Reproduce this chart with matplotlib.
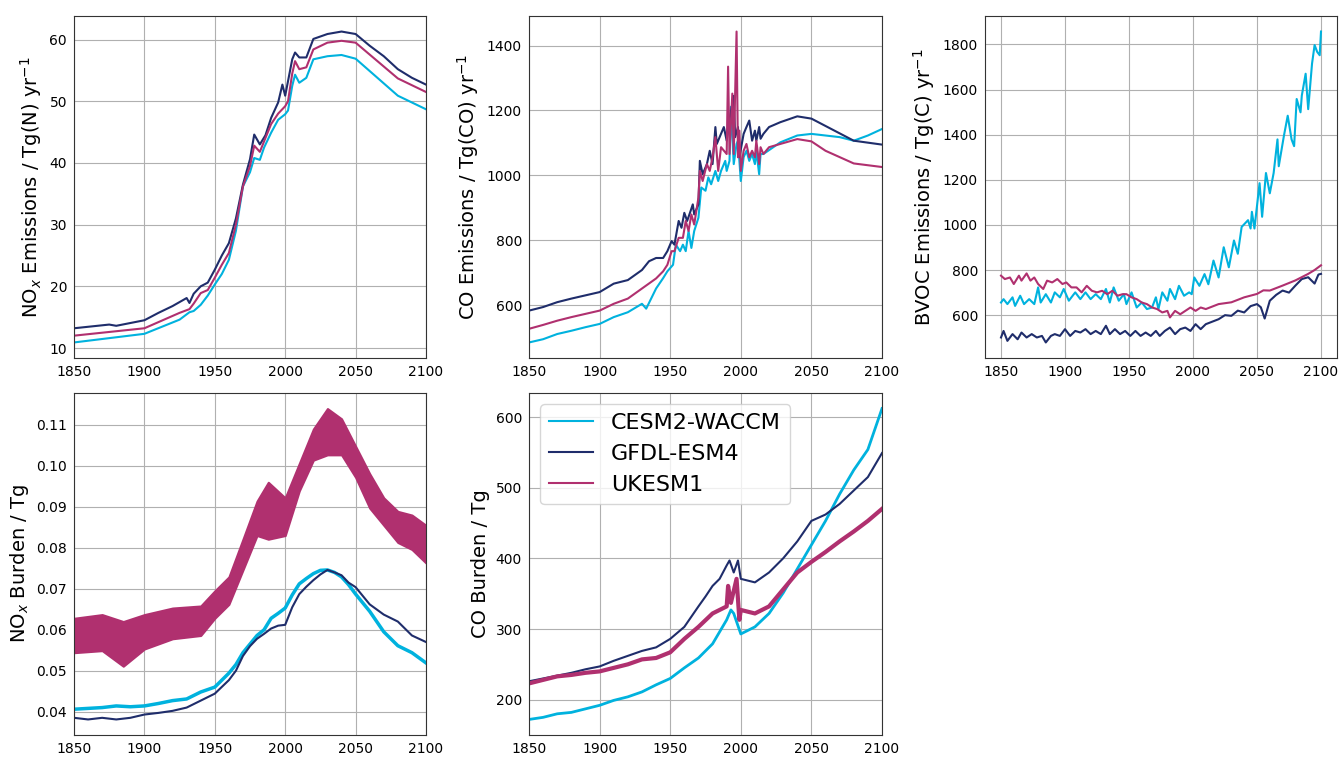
import matplotlib
matplotlib.use("Agg")
import matplotlib.pyplot as plt
from matplotlib.lines import Line2D

models = ["CESM2-WACCM", "GFDL-ESM4", "UKESM1"]
colors = {"CESM2-WACCM": "#00b2de", "GFDL-ESM4": "#1f2d6b", "UKESM1": "#b0306f"}

# ---------------- NOx emissions / Tg(N) yr-1 ----------------
nox_em_cesm_yr = [1850, 1900, 1925, 1932, 1935, 1940, 1945, 1950, 1955, 1960, 1965, 1970, 1975, 1978, 1982, 1985, 1990,
                  1995, 2000, 2002, 2005, 2007, 2010, 2015, 2020, 2030, 2040, 2050, 2080, 2100]
nox_em_cesm = [10.9, 12.3, 14.6, 15.8, 16.0, 17.0, 18.5, 20.3, 22.0, 24.3, 29.0, 36.2, 38.5, 40.8, 40.5, 42.5, 44.9,
               47.0, 47.9, 48.5, 52.5, 54.3, 53.0, 53.8, 56.8, 57.3, 57.5, 56.9, 50.9, 48.7]
nox_em_gfdl_yr = [1850, 1875, 1880, 1900, 1910, 1920, 1930, 1932, 1935, 1940, 1945, 1950, 1955, 1960, 1965, 1970, 1975,
                  1978, 1982, 1986, 1990, 1995, 1998, 2000, 2005, 2007, 2010, 2015, 2020, 2030, 2040, 2050, 2060,
                  2070, 2080, 2090, 2100]
nox_em_gfdl = [13.2, 13.8, 13.6, 14.5, 15.7, 16.8, 18.1, 17.3, 18.8, 20.0, 20.6, 22.7, 25.0, 27.0, 31.0, 36.5, 40.6,
               44.6, 43.0, 44.5, 47.3, 49.8, 52.7, 50.9, 56.8, 57.9, 57.1, 57.1, 60.1, 60.9, 61.3, 60.9, 59.0,
               57.3, 55.2, 53.8, 52.7]
nox_em_uk_yr = [1850, 1900, 1925, 1932, 1935, 1940, 1945, 1950, 1955, 1960, 1965, 1970, 1975, 1978, 1982, 1985, 1990,
                1995, 2000, 2002, 2005, 2007, 2010, 2015, 2020, 2030, 2040, 2050, 2080, 2100]
nox_em_uk = [12.0, 13.2, 15.7, 16.3, 17.2, 18.9, 19.4, 21.4, 23.5, 25.4, 30.0, 36.2, 39.5, 42.8, 41.8, 43.5, 46.3,
             48.0, 49.2, 50.0, 54.5, 56.5, 55.2, 55.5, 58.4, 59.5, 59.8, 59.5, 53.7, 51.5]

# ---------------- CO emissions / Tg(CO) yr-1 ----------------
co_em_cesm_yr = [1850, 1860, 1870, 1880, 1890, 1900, 1910, 1920, 1930, 1933, 1940, 1945, 1948, 1952, 1954, 1957,
                 1959, 1961, 1963, 1965, 1967, 1970, 1972, 1975, 1977, 1979, 1982, 1984, 1986, 1989, 1990, 1992,
                 1993, 1995, 1997, 1998, 2000, 2002, 2004, 2006, 2008, 2010, 2011, 2013, 2014, 2016, 2028, 2040,
                 2050, 2060, 2070, 2080, 2090, 2100]
co_em_cesm = [486, 496, 512, 522, 533, 543, 564, 579, 605, 590, 652, 684, 705, 725, 787, 767,
              787, 767, 829, 777, 829, 870, 963, 953, 994, 973, 1014, 983, 1014, 1045, 1014, 1045,
              1211, 1035, 1097, 1107, 983, 1056, 1076, 1045, 1066, 1035, 1076, 1004, 1066, 1066, 1102, 1123,
              1128, 1123, 1118, 1107, 1123, 1143]
co_em_gfdl_yr = [1850, 1860, 1870, 1880, 1890, 1900, 1910, 1920, 1930, 1935, 1940, 1945, 1948, 1951, 1953, 1956,
                 1958, 1960, 1962, 1964, 1966, 1967, 1970, 1971, 1973, 1976, 1978, 1980, 1982, 1983, 1985, 1988,
                 1990, 1991, 1992, 1995, 1996, 1998, 1999, 2002, 2004, 2006, 2008, 2010, 2011, 2013, 2014, 2016,
                 2020, 2028, 2040, 2050, 2080, 2100]
co_em_gfdl = [584, 595, 610, 621, 631, 641, 667, 678, 709, 736, 746, 746, 767, 798, 787, 860,
              839, 885, 860, 885, 911, 880, 911, 1045, 1004, 1035, 1076, 1035, 1149, 1097, 1118, 1149,
              1107, 1138, 1174, 1245, 1118, 1149, 1056, 1128, 1149, 1169, 1107, 1138, 1107, 1149, 1113, 1128,
              1149, 1164, 1182, 1175, 1107, 1095]
co_em_uk_yr = [1850, 1860, 1870, 1880, 1890, 1900, 1910, 1920, 1930, 1940, 1945, 1948, 1951, 1953, 1956, 1959,
               1961, 1963, 1965, 1967, 1970, 1971, 1973, 1976, 1978, 1980, 1982, 1984, 1986, 1990, 1991, 1992,
               1994, 1995, 1997, 1998, 1999, 2000, 2002, 2004, 2006, 2008, 2010, 2011, 2013, 2014, 2016, 2020,
               2028, 2040, 2050, 2060, 2080, 2100]
co_em_uk = [528, 540, 553, 564, 574, 584, 605, 621, 652, 683, 705, 725, 767, 767, 808, 808,
            860, 829, 880, 849, 932, 1014, 983, 1035, 1014, 1056, 1118, 1014, 1087, 1066, 1335, 1066,
            1252, 1066, 1443, 1056, 1138, 1014, 1076, 1097, 1056, 1076, 1056, 1107, 1035, 1087, 1066, 1087,
            1097, 1112, 1105, 1076, 1037, 1026]

# ---------------- BVOC emissions / Tg(C) yr-1 ----------------
bvoc_cesm_yr = [1850, 1852, 1855, 1859, 1861, 1865, 1868, 1872, 1876, 1879, 1881, 1885, 1889, 1892, 1896, 1899,
                1903, 1908, 1912, 1916, 1920, 1924, 1928, 1932, 1935, 1938, 1942, 1946, 1948, 1952, 1956, 1960,
                1964, 1968, 1971, 1973, 1976, 1980, 1982, 1986, 1989, 1993, 1997, 1999, 2001, 2005, 2009, 2012,
                2016, 2020, 2024, 2028, 2032, 2035, 2038, 2043, 2045, 2046, 2048, 2052, 2054, 2057, 2060, 2063,
                2066, 2067, 2071, 2074, 2077, 2079, 2081, 2084, 2085, 2088, 2090, 2092, 2093, 2095, 2097, 2099,
                2100]
bvoc_cesm = [656, 671, 649, 679, 641, 686, 649, 671, 649, 723, 656, 693, 656, 701, 679, 716,
             664, 701, 671, 701, 671, 693, 671, 716, 656, 723, 664, 693, 649, 701, 634, 656,
             627, 634, 679, 627, 701, 664, 716, 671, 730, 686, 701, 693, 767, 730, 782, 737,
             842, 767, 901, 812, 931, 872, 991, 1021, 984, 1058, 984, 1185, 1036, 1230, 1140, 1230,
             1379, 1260, 1394, 1484, 1379, 1349, 1558, 1499, 1573, 1670, 1513, 1648, 1715, 1797, 1767, 1752,
             1857]
bvoc_gfdl_yr = [1850, 1852, 1855, 1859, 1863, 1866, 1870, 1874, 1878, 1882, 1885, 1889, 1892, 1896, 1900, 1904,
                1908, 1912, 1916, 1920, 1924, 1928, 1932, 1935, 1939, 1943, 1947, 1951, 1955, 1959, 1963, 1967,
                1971, 1974, 1978, 1982, 1986, 1990, 1994, 1998, 2002, 2006, 2010, 2020, 2025, 2030, 2035, 2040,
                2045, 2050, 2053, 2056, 2060, 2065, 2070, 2075, 2080, 2085, 2090, 2095, 2098, 2100]
bvoc_gfdl = [501, 530, 486, 516, 493, 523, 501, 516, 501, 508, 479, 508, 516, 508, 538, 508,
             530, 523, 538, 516, 530, 516, 553, 516, 538, 516, 530, 508, 530, 508, 523, 508,
             530, 508, 530, 545, 516, 538, 545, 530, 560, 538, 560, 582, 600, 597, 620, 612,
             640, 649, 635, 585, 664, 690, 709, 700, 731, 760, 768, 740, 780, 783]
bvoc_uk_yr = [1850, 1853, 1857, 1860, 1864, 1866, 1870, 1873, 1876, 1879, 1883, 1886, 1890, 1894, 1898, 1901,
              1905, 1909, 1913, 1917, 1921, 1925, 1929, 1933, 1937, 1941, 1945, 1948, 1952, 1956, 1960, 1964,
              1968, 1972, 1976, 1980, 1982, 1986, 1990, 1994, 1998, 2002, 2006, 2010, 2020, 2030, 2040, 2050,
              2055, 2060, 2070, 2080, 2090, 2095, 2100]
bvoc_uk = [775, 760, 767, 738, 775, 753, 785, 753, 767, 738, 716, 753, 745, 760, 738, 745,
           723, 723, 701, 730, 708, 701, 708, 693, 708, 686, 693, 693, 679, 671, 656, 649,
           634, 627, 612, 619, 590, 619, 604, 619, 634, 619, 634, 627, 649, 657, 679, 694,
           710, 709, 731, 754, 783, 800, 821]

# ---------------- NOx burden / Tg ----------------
noxb_yr = [1850, 1860, 1870, 1880, 1890, 1900, 1910, 1920, 1930, 1940, 1950, 1960, 1965, 1970, 1975, 1980, 1985,
           1990, 1995, 2000, 2005, 2010, 2015, 2020, 2025, 2030, 2035, 2040, 2045, 2050, 2060, 2070, 2080,
           2090, 2100]
noxb_cesm = [0.0406, 0.0408, 0.0410, 0.0414, 0.0412, 0.0414, 0.0420, 0.0427, 0.0431, 0.0448, 0.0460, 0.0494, 0.0515,
             0.0544, 0.0565, 0.0586, 0.0600, 0.0628, 0.0640, 0.0653, 0.0685, 0.0712, 0.0725, 0.0737, 0.0745, 0.0746,
             0.0740, 0.0729, 0.0710, 0.0687, 0.0645, 0.0595, 0.0561, 0.0544, 0.0519]
noxb_gfdl = [0.0385, 0.0381, 0.0385, 0.0381, 0.0385, 0.0393, 0.0397, 0.0402, 0.0410, 0.0427, 0.0444, 0.0477, 0.0500,
             0.0536, 0.0560, 0.0578, 0.0590, 0.0603, 0.0610, 0.0612, 0.0655, 0.0687, 0.0705, 0.0721, 0.0735, 0.0746,
             0.0740, 0.0733, 0.0715, 0.0704, 0.0662, 0.0637, 0.0620, 0.0586, 0.0570]
# UKESM1 ensemble spread (upper / lower envelope)
noxb_uk_yr = [1850, 1870, 1885, 1900, 1920, 1940, 1950, 1960, 1970, 1980, 1988, 2000, 2010, 2020, 2030, 2040, 2050,
              2060, 2070, 2080, 2090, 2100]
noxb_uk_hi = [0.0628, 0.0637, 0.0620, 0.0637, 0.0653, 0.0658, 0.0695, 0.0729, 0.0821, 0.0914, 0.0960, 0.0922, 0.1006,
              0.1090, 0.1140, 0.1115, 0.1048, 0.0981, 0.0922, 0.0889, 0.0880, 0.0855]
noxb_uk_lo = [0.0544, 0.0549, 0.0511, 0.0553, 0.0578, 0.0586, 0.0628, 0.0662, 0.0746, 0.0830, 0.0821, 0.0830, 0.0939,
              0.1014, 0.1027, 0.1027, 0.0972, 0.0897, 0.0855, 0.0813, 0.0796, 0.0763]

# ---------------- CO burden / Tg ----------------
cob_cesm_yr = [1850, 1860, 1870, 1880, 1890, 1900, 1910, 1920, 1930, 1940, 1950, 1960, 1970, 1980, 1990, 1993, 1995,
               2000, 2010, 2020, 2030, 2040, 2050, 2060, 2070, 2080, 2090, 2100]
cob_cesm = [172, 175, 180, 182, 187, 192, 199, 204, 211, 221, 230, 245, 259, 279, 313, 327, 322,
            293, 303, 322, 351, 385, 419, 453, 491, 525, 554, 612]
cob_gfdl_yr = [1850, 1860, 1870, 1880, 1890, 1900, 1910, 1920, 1930, 1940, 1950, 1960, 1970, 1975, 1980, 1985, 1990,
               1992, 1995, 1998, 2000, 2010, 2020, 2030, 2040, 2050, 2060, 2070, 2080, 2090, 2100]
cob_gfdl = [226, 230, 234, 238, 243, 247, 255, 262, 269, 274, 286, 303, 332, 346, 361, 371, 390,
            397, 380, 397, 371, 366, 380, 400, 424, 453, 462, 477, 496, 515, 549]
cob_uk_yr = [1850, 1860, 1870, 1880, 1890, 1900, 1910, 1920, 1930, 1940, 1950, 1960, 1970, 1980, 1990, 1991, 1993,
             1997, 1999, 2000, 2010, 2020, 2030, 2040, 2050, 2060, 2070, 2080, 2090, 2100]
cob_uk = [223, 228, 233, 235, 238, 240, 245, 250, 257, 259, 267, 286, 303, 322, 332, 361, 337,
          371, 313, 327, 322, 332, 356, 380, 395, 409, 424, 438, 453, 470]

fig = plt.figure(figsize=(13.4, 7.57), dpi=100)
W, H = 1340, 757


def rect(l, t, r, b):
    return [l / W, 1 - b / H, (r - l) / W, (b - t) / H]


ax1 = fig.add_axes(rect(74, 16, 426, 358))
ax2 = fig.add_axes(rect(529, 16, 882, 358))
ax3 = fig.add_axes(rect(985, 16, 1337, 358))
ax4 = fig.add_axes(rect(74, 393, 426, 735))
ax5 = fig.add_axes(rect(529, 393, 882, 735))

cC, cG, cU = colors["CESM2-WACCM"], colors["GFDL-ESM4"], colors["UKESM1"]
lw = 1.5

ax1.plot(nox_em_cesm_yr, nox_em_cesm, color=cC, lw=lw)
ax1.plot(nox_em_gfdl_yr, nox_em_gfdl, color=cG, lw=lw)
ax1.plot(nox_em_uk_yr, nox_em_uk, color=cU, lw=lw)
ax1.set_xlim(1850, 2100)
ax1.set_ylabel(r"NO$_x$ Emissions / Tg(N) yr$^{-1}$", fontsize=14)

ax2.plot(co_em_cesm_yr, co_em_cesm, color=cC, lw=lw)
ax2.plot(co_em_gfdl_yr, co_em_gfdl, color=cG, lw=lw)
ax2.plot(co_em_uk_yr, co_em_uk, color=cU, lw=lw)
ax2.set_xlim(1850, 2100)
ax2.set_ylabel(r"CO Emissions / Tg(CO) yr$^{-1}$", fontsize=14)

ax3.plot(bvoc_cesm_yr, bvoc_cesm, color=cC, lw=lw)
ax3.plot(bvoc_gfdl_yr, bvoc_gfdl, color=cG, lw=lw)
ax3.plot(bvoc_uk_yr, bvoc_uk, color=cU, lw=lw)
ax3.set_ylabel(r"BVOC Emissions / Tg(C) yr$^{-1}$", fontsize=14)

ax4.fill_between(noxb_uk_yr, noxb_uk_lo, noxb_uk_hi, color=cU, lw=1.5, edgecolor=cU)
ax4.plot(noxb_yr, noxb_cesm, color=cC, lw=2.5)
ax4.plot(noxb_yr, noxb_gfdl, color=cG, lw=lw)
ax4.set_xlim(1850, 2100)
ax4.set_ylabel(r"NO$_x$ Burden / Tg", fontsize=14)

ax5.plot(cob_cesm_yr, cob_cesm, color=cC, lw=2.0)
ax5.plot(cob_gfdl_yr, cob_gfdl, color=cG, lw=lw)
ax5.plot(cob_uk_yr, cob_uk, color=cU, lw=3.0)
ax5.set_xlim(1850, 2100)
ax5.set_ylabel("CO Burden / Tg", fontsize=14)
handles = [Line2D([], [], color=colors[m], lw=1.5) for m in models]
ax5.legend(handles, models, loc="upper left", fontsize=16)

for ax in (ax1, ax2, ax3, ax4, ax5):
    ax.grid(True)
    ax.set_axisbelow(True)
    ax.tick_params(labelsize=10, length=0, pad=5)
    ax.set_xticks([1850, 1900, 1950, 2000, 2050, 2100])
    for sp in ax.spines.values():
        sp.set_color("#333333")

fig.savefig("out.png", dpi=100)
